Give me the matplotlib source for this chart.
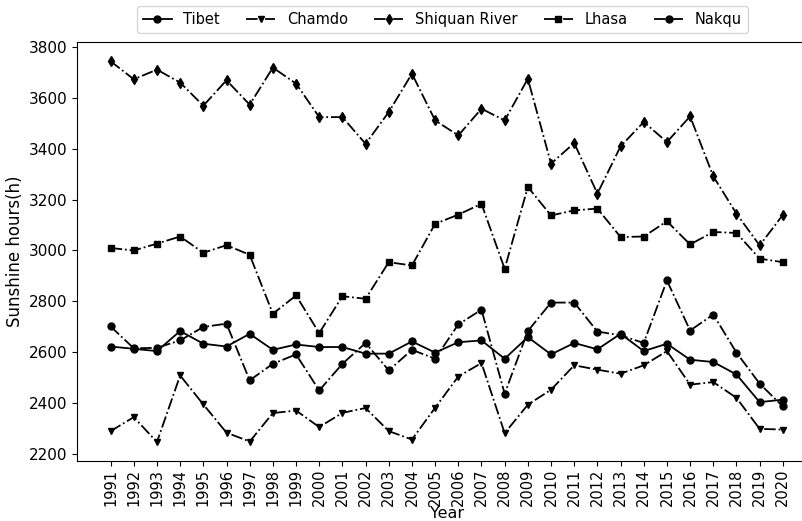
import matplotlib
matplotlib.use('Agg')
import matplotlib.pyplot as plt

# Sunshine hours per year
years = list(range(1991, 2021))

tibet = [2622, 2613, 2604, 2683, 2633, 2622, 2672, 2609, 2630, 2620,
         2620, 2594, 2594, 2642, 2598, 2639, 2646, 2574, 2659, 2591,
         2636, 2611, 2672, 2604, 2633, 2570, 2561, 2512, 2403, 2413]
chamdo = [2289, 2344, 2246, 2508, 2394, 2283, 2248, 2360, 2370, 2305,
          2361, 2380, 2289, 2256, 2381, 2504, 2557, 2281, 2393, 2452,
          2548, 2531, 2515, 2548, 2604, 2472, 2482, 2420, 2298, 2295]
shiquan = [3745, 3674, 3712, 3661, 3570, 3670, 3574, 3720, 3657, 3525,
           3525, 3420, 3545, 3696, 3512, 3453, 3558, 3512, 3676, 3342,
           3423, 3224, 3410, 3506, 3427, 3528, 3292, 3145, 3020, 3140]
lhasa = [3010, 3000, 3027, 3055, 2991, 3021, 2983, 2751, 2823, 2675,
         2820, 2810, 2954, 2941, 3105, 3141, 3184, 2928, 3250, 3138,
         3158, 3165, 3053, 3055, 3115, 3024, 3073, 3069, 2968, 2954]
nakqu = [2701, 2615, 2617, 2646, 2699, 2712, 2489, 2554, 2591, 2449,
         2554, 2636, 2528, 2609, 2574, 2709, 2767, 2436, 2683, 2795,
         2795, 2681, 2666, 2636, 2882, 2685, 2748, 2598, 2476, 2386]

fig = plt.figure(figsize=(8.02, 5.21), dpi=100)
ax = fig.add_axes([0.096, 0.115, 0.922, 0.804])

ax.plot(years, tibet, 'k-', marker='o', ms=5, lw=1.3, label='Tibet')
ax.plot(years, chamdo, 'k-.', marker='v', ms=5, lw=1.3, label='Chamdo')
ax.plot(years, shiquan, 'k-.', marker='d', ms=5, lw=1.3, label='Shiquan River')
ax.plot(years, lhasa, 'k-.', marker='s', ms=5, lw=1.3, label='Lhasa')
ax.plot(years, nakqu, 'k-.', marker='o', ms=5, lw=1.3, label='Nakqu')

ax.set_xticks(years)
ax.set_xticklabels([str(y) for y in years], rotation=90, fontsize=10.5)
ax.tick_params(axis='x', pad=2)
ax.tick_params(axis='y', labelsize=11)
ax.set_xlabel('Year', fontsize=11.5)
ax.xaxis.set_label_coords(0.5, -0.107)
ax.set_ylabel('Sunshine hours(h)', fontsize=12, labelpad=3)

ax.legend(loc='lower center', bbox_to_anchor=(0.494, 1.015), ncol=5,
          fontsize=10.5, columnspacing=1.8, borderaxespad=0.2)

fig.savefig('out.png', dpi=100)
